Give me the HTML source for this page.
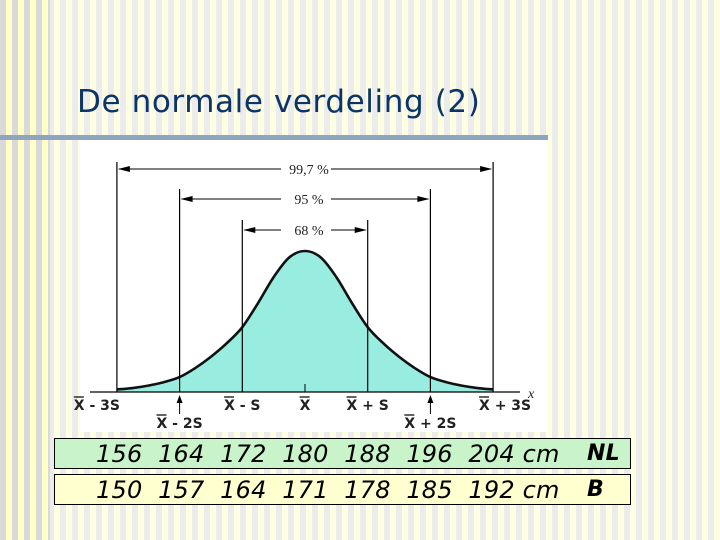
<!DOCTYPE html>
<html><head><meta charset="utf-8"><style>
body{margin:0;width:720px;height:540px;overflow:hidden;position:relative;font-family:"DejaVu Sans","Liberation Sans",sans-serif;
background:repeating-linear-gradient(90deg,#ececec 0 6px,#ffffe2 6px 12px);}
#leftband{position:absolute;left:0;top:0;width:50px;height:540px;background:repeating-linear-gradient(90deg,#d9d9d9 0 6px,#ffffc6 6px 12px);}
#title{position:absolute;left:77px;top:84px;font-size:31px;letter-spacing:0.6px;color:#0b3566;white-space:nowrap}
#rule{position:absolute;left:0;top:135px;width:548px;height:5px;background:#8ea4bf;}
#panel{position:absolute;left:80px;top:140px;width:468px;height:292px;background:#fff;}
.row{position:absolute;left:54px;width:577px;height:31px;border:1px solid #000;font-style:italic;font-size:24px;letter-spacing:0.2px;line-height:30px;box-sizing:border-box;padding-left:41px;white-space:pre;color:#000;font-family:"DejaVu Sans",sans-serif}
#r1{top:438px;background:#c9f3c9}
#r2{top:474px;background:#ffffcf}
.tag{position:absolute;left:532px;font-weight:bold;font-size:22px}
svg{position:absolute;left:0;top:0}
</style></head><body>
<div id="leftband"></div>
<div id="title">De normale verdeling (2)</div>
<div id="rule"></div>
<div id="panel"></div>
<svg width="720" height="540" id="chart"></svg>
<div class="row" id="r1">156  164  172  180  188  196  204 cm<span class="tag">NL</span></div>
<div class="row" id="r2">150  157  164  171  178  185  192 cm<span class="tag">B</span></div>
<script>
const zValues=[-3,-2.75,-2.5,-2.25,-2,-1.75,-1.5,-1.25,-1,-0.75,-0.5,-0.25,0,0.25,0.5,0.75,1,1.25,1.5,1.75,2,2.25,2.5,2.75,3];
const densityRatio=[0.018,0.028,0.045,0.07,0.106,0.17,0.25,0.345,0.46,0.63,0.815,0.955,1,0.955,0.815,0.63,0.46,0.345,0.25,0.17,0.106,0.07,0.045,0.028,0.018];
const bandLevels=[3,2,1];
const bandLabels=["99,7 %","95  %","68  %"];
const axisLabels=["X - 3S","X - 2S","X - S","X","X + S","X + 2S","X + 3S"];
const MEAN=305,SD=62.7,BASE=392,PEAK=141;
const sx=z=>MEAN+z*SD, sy=r=>BASE-r*PEAK;
const svg=document.getElementById('chart');
const NS='http://www.w3.org/2000/svg';
function mk(t,a){const e=document.createElementNS(NS,t);for(const k in a)e.setAttribute(k,a[k]);svg.appendChild(e);return e;}
const pts=zValues.map((z,i)=>[sx(z),sy(densityRatio[i])]);
let d=`M${pts[0][0]},${pts[0][1]}`;
for(let i=0;i<pts.length-1;i++){const p0=pts[Math.max(0,i-1)],p1=pts[i],p2=pts[i+1],p3=pts[Math.min(pts.length-1,i+2)];
d+=` C${p1[0]+(p2[0]-p0[0])/6},${p1[1]+(p2[1]-p0[1])/6} ${p2[0]-(p3[0]-p1[0])/6},${p2[1]-(p3[1]-p1[1])/6} ${p2[0]},${p2[1]}`;}
let fill=mk('path',{d:d+` L${sx(3)},${BASE} L${sx(-3)},${BASE} Z`,fill:'#98ede0'});


let ax=mk('line',{x1:90,y1:BASE,x2:520,y2:BASE,stroke:'#000','stroke-width':1.3});


let cl=mk('path',{d:d,fill:'none',stroke:'#111','stroke-width':2.6});


mk('line',{x1:MEAN,y1:BASE-8,x2:MEAN,y2:BASE,stroke:'#000','stroke-width':1});
const tops={3:162,2:189,1:220}, arrY={3:169,2:199,1:230};
bandLevels.forEach((k,i)=>{
 [-k,k].forEach(s=>{let l=mk('line',{x1:sx(s),y1:tops[k],x2:sx(s),y2:BASE,stroke:'#000','stroke-width':1.2});
 
 });
 const y=arrY[k],x1=sx(-k),x2=sx(k);
 mk('line',{x1:x1+2,y1:y,x2:MEAN-24,y2:y,stroke:'#000','stroke-width':1});
 mk('line',{x1:MEAN+26,y1:y,x2:x2-2,y2:y,stroke:'#000','stroke-width':1});
 mk('path',{d:`M${x1+1},${y} l12,-3 v6z M${x2-1},${y} l-12,-3 v6z`,fill:'#000'});
 let t=mk('text',{x:MEAN+4,y:y+5,'text-anchor':'middle','font-family':'Liberation Serif, serif','font-size':14,fill:'#222'});
 t.textContent=bandLabels[i];
 
 
});
axisLabels.forEach((lab,i)=>{
 const z=i-3, low=(Math.abs(z)===2);
 const x=sx(z)+(z===-3?-20:z===3?12:0), y=low?428:410;
 let t=mk('text',{x:x,y:y,'text-anchor':'middle','font-family':'DejaVu Sans, sans-serif','font-size':14,'font-weight':'bold',fill:'#222'});
 t.textContent=lab;
 
 
 const w=t.getComputedTextLength?t.getComputedTextLength():lab.length*9;
 mk('line',{x1:x-w/2,y1:y-13,x2:x-w/2+10,y2:y-13,stroke:'#222','stroke-width':1.4});
 if(low){mk('line',{x1:sx(z),y1:398,x2:sx(z),y2:414,stroke:'#000','stroke-width':1});
  mk('path',{d:`M${sx(z)},395 l-3,8 h6z`,fill:'#000'});}
});
let xl=mk('text',{x:528,y:398,'font-family':'Liberation Serif, serif','font-style':'italic','font-size':14,fill:'#222'});
xl.textContent='x';


</script>
</body></html>
